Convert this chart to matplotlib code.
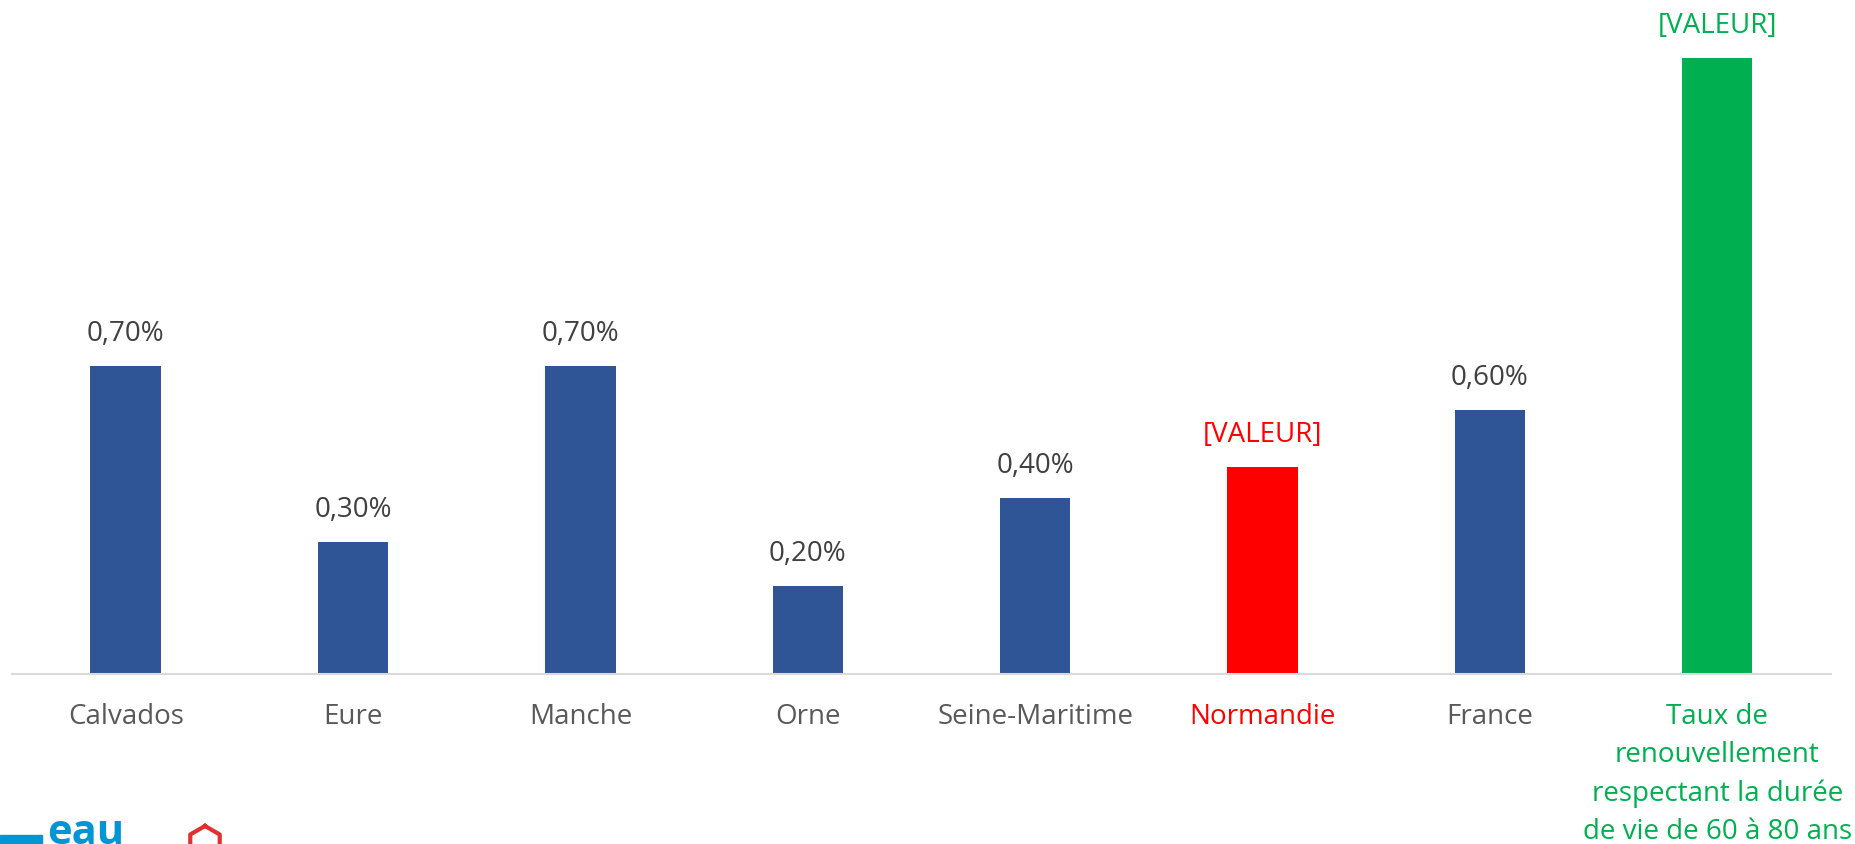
import matplotlib.pyplot as plt
import matplotlib.patches as mpatches
import numpy as np

plt.rcParams['font.family'] = ['Open Sans', 'DejaVu Sans']

categories = ['Calvados', 'Eure', 'Manche', 'Orne', 'Seine-Maritime', 'Normandie', 'France',
              'Taux de\nrenouvellement\nrespectant la durée\nde vie de 60 à 80 ans']
values = [0.70, 0.30, 0.70, 0.20, 0.40, 0.47, 0.60, 1.40]
value_labels = ['0,70%', '0,30%', '0,70%', '0,20%', '0,40%', '[VALEUR]', '0,60%', '[VALEUR]']

bar_colors = ['#2F5597'] * 5 + ['#FF0000', '#2F5597', '#00B050']
label_colors = ['#404040'] * 5 + ['#FF0000', '#404040', '#00B050']
tick_colors = ['#595959'] * 5 + ['#FF0000', '#595959', '#00B050']

fig = plt.figure(figsize=(18.55, 8.44), dpi=100)
ax = fig.add_axes([0.0065, 0.2014, 0.9805, 0.7986])

x = np.arange(len(categories))
bars = ax.bar(x, values, width=0.31, color=bar_colors)

for xi, v, lab, c in zip(x, values, value_labels, label_colors):
    ax.annotate(lab, (xi, v), xytext=(0, 23), textcoords='offset points',
                ha='center', va='center', fontsize=20, color=c)

ax.set_xlim(-0.5, len(categories) - 0.5)
ax.set_ylim(0, 1.532)
ax.set_xticks(x)
ax.set_xticklabels(categories, fontsize=20, linespacing=1.48, va='top')
for t, c in zip(ax.get_xticklabels(), tick_colors):
    t.set_color(c)
ax.tick_params(axis='x', length=0, pad=21)
ax.set_yticks([])
for s in ['top', 'left', 'right']:
    ax.spines[s].set_visible(False)
ax.spines['bottom'].set_color('#D9D9D9')
ax.spines['bottom'].set_linewidth(1.5)

# logos partially visible at bottom left
fig.patches.append(mpatches.Rectangle((0, 0), 42 / 1855, 9 / 844, transform=fig.transFigure,
                                      color='#0096D6'))
fig.text(47 / 1855, -10 / 844, 'eau', fontsize=30, color='#0096D6', fontweight='bold',
         ha='left', va='bottom')
ang = np.linspace(np.pi / 2, np.pi / 2 + 2 * np.pi, 7)
hx = 205 + 17 * np.cos(ang)
hy = 843 - 17 * np.sin(ang)
fig.lines.append(plt.Line2D(hx / 1855, 1 - hy / 844, transform=fig.transFigure,
                            color='#E03030', lw=3))

fig.savefig('out.png', dpi=100)
